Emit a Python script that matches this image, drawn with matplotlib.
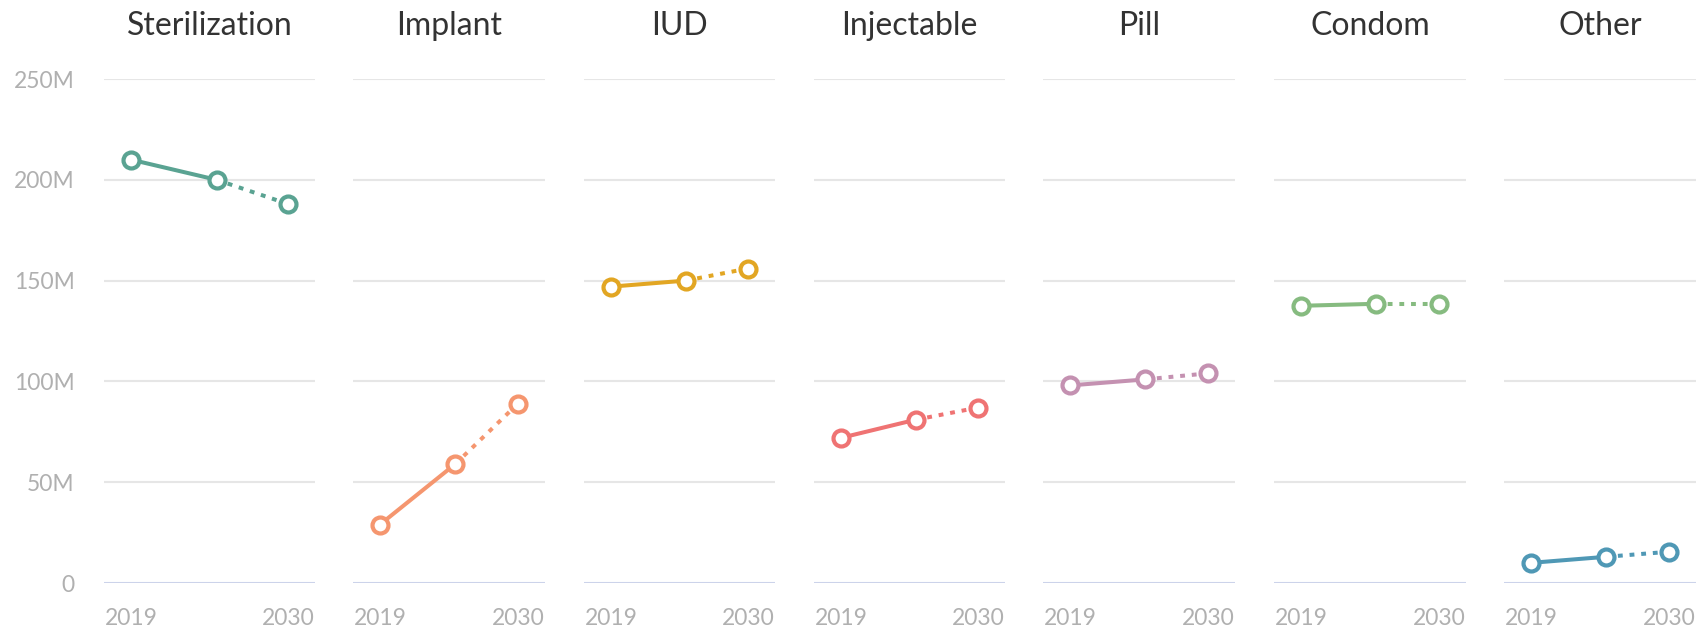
import matplotlib
matplotlib.use("Agg")
import matplotlib.pyplot as plt
import matplotlib.transforms as mtransforms

# ---- data ----
methods = ["Sterilization", "Implant", "IUD", "Injectable", "Pill", "Condom", "Other"]
years = [2019, 2025, 2030]
sterilization = [210, 200, 188]
implant = [29, 59, 89]
iud = [147, 150, 156]
injectable = [72, 81, 87]
pill = [98, 101, 104]
condom = [137.5, 138.5, 138.5]
other = [10, 13, 15.5]
series = [sterilization, implant, iud, injectable, pill, condom, other]
colors = ["#5aa392", "#f5966f", "#e2a623", "#ef7373", "#c491b1", "#86bb80", "#4f98b5"]
y_ticks = [0, 50, 100, 150, 200, 250]
y_labels = ["0", "50M", "100M", "150M", "200M", "250M"]
x_ticks = [2019, 2030]

# ---- layout (pixels) ----
W, H = 1701, 630
plt.rcParams['font.family'] = ['Lato', 'DejaVu Sans']
fig = plt.figure(figsize=(W / 100, H / 100), dpi=100)
lefts = [104, 353, 584, 814, 1043, 1274, 1504]
rights = [315, 545, 775, 1005, 1235, 1466, 1696]
y0_px, ytop_px = 583, 79
pad_px = 27

tick_color = "#b0b0b0"
for i, (name, vals, col) in enumerate(zip(methods, series, colors)):
    l, r = lefts[i], rights[i]
    w = r - l
    ax = fig.add_axes([l / W, (H - y0_px) / H, w / W, (y0_px - ytop_px) / H])
    span = (x_ticks[1] - x_ticks[0]) / (1 - 2 * pad_px / w)
    pad = pad_px / w * span
    ax.set_xlim(x_ticks[0] - pad, x_ticks[1] + pad)
    ax.set_ylim(y_ticks[0], y_ticks[-1])
    for s in ax.spines.values():
        s.set_visible(False)
    for yt in y_ticks[1:]:
        ax.axhline(yt, color="#e6e6e6", lw=1.5, zorder=0)
    ax.axhline(y_ticks[0], color="#ccd3ea", lw=1.5, zorder=0)
    ax.plot(years[:2], vals[:2], color=col, lw=2.9, solid_capstyle="butt", zorder=2)
    ax.plot(years[1:], vals[1:], color=col, lw=2.9, linestyle=(0, (1.2, 1.7)),
            dash_capstyle="butt", zorder=2)
    ax.plot(years, vals, linestyle="none", marker="o", ms=11.5, mew=3.0,
            mec=col, mfc="white", zorder=3, clip_on=False)
    ax.set_xticks(x_ticks)
    ax.set_xticklabels([str(x) for x in x_ticks])
    ax.tick_params(axis="x", length=0, pad=18, labelsize=16.5, labelcolor=tick_color)
    if i == 0:
        ax.set_yticks(y_ticks)
        ax.set_yticklabels(y_labels)
        ax.tick_params(axis="y", length=0, pad=21, labelsize=16.5, labelcolor=tick_color)
    else:
        ax.set_yticks([])
    ax.text(0.5, 1.0, name, fontsize=23, color="#333333", ha="center", va="center",
            transform=ax.transAxes + mtransforms.ScaledTranslation(0, 53 / 100, fig.dpi_scale_trans))

fig.savefig("out.png", dpi=100, facecolor="white")
